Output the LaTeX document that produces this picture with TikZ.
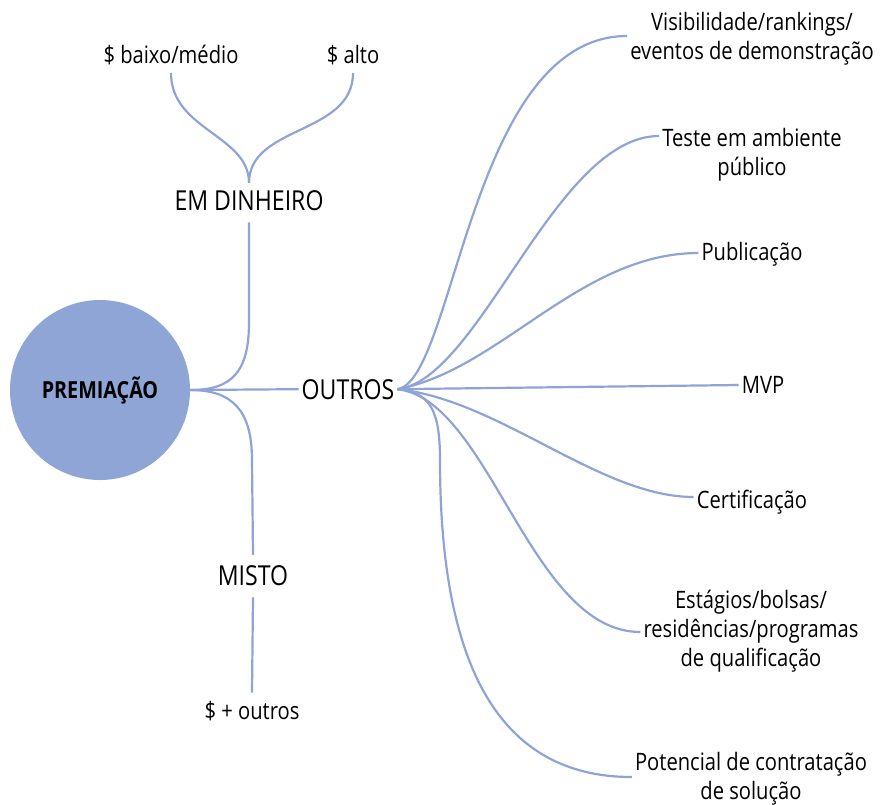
\documentclass[tikz,border=0pt]{standalone}
\usepackage{fontspec}
\setmainfont{Open Sans}[FakeStretch=0.84]
\usetikzlibrary{calc}
\definecolor{lc}{RGB}{143,163,214}
\definecolor{cf}{RGB}{142,165,214}
\begin{document}
\begin{tikzpicture}[x=1pt,y=-1pt,
  conn/.style={draw=lc,line width=2.2pt},
  sm/.style={inner sep=0pt,anchor=base,font=\fontsize{24}{28}\selectfont},
  big/.style={inner sep=0pt,anchor=base,font=\fontsize{27.5}{32}\selectfont},
  rl/.style={inner sep=0pt,anchor=base,align=center,font=\fontsize{24}{29}\selectfont}]
\useasboundingbox (0,0) rectangle (882,804);
% hub
\node[circle,fill=cf,minimum size=180pt,inner sep=0pt,font=\bfseries\fontsize{23.5}{28}\selectfont] (prem) at (100,390) {PREMIAÇÃO};
\node[big] (em) at (249,210) {EM DINHEIRO};
\node[big] (outros) at (348,399) {OUTROS};
\node[big] (misto) at (253,585) {MISTO};
\node[sm] (baixo) at (171,63) {\$ baixo/médio};
\node[sm] (alto) at (353,63) {\$ alto};
\node[sm] (mais) at (252,719) {\$ + outros};
% right labels (base = baseline of last line)
\node[rl] (vis) at (752,59) {Visibilidade/rankings/\\eventos de demonstração};
\node[rl] (teste) at (752,175) {Teste em ambiente\\público};
\node[rl] (pub) at (752,260) {Publicação};
\node[rl] (mvp) at (763,393) {MVP};
\node[rl] (cert) at (752,508) {Certificação};
\node[rl] (est) at (751,666) {Estágios/bolsas/\\residências/programas\\de qualificação};
\node[rl] (pot) at (751,799) {Potencial de contratação\\de solução};
% left connectors
\draw[conn] (prem.east) .. controls (232,390) and (249,372) .. (249,322) -- ($(em.south)+(0,12)$);
\draw[conn] (prem.east) .. controls (232,390) and (252,410) .. (252,460) -- ($(misto.north)+(0,-10)$);
\draw[conn] (prem.east) -- ($(outros.west)+(-3,0)$);
\draw[conn] ($(misto.south)+(0,12)$) -- ($(mais.north)+(0,-8)$);
\draw[conn] ($(em.north)+(0,-7)$) .. controls (249,135) and (171,130) .. ($(baixo.base)+(0,10)$);
\draw[conn] ($(em.north)+(0,-7)$) .. controls (249,125) and (353,135) .. ($(alto.base)+(0,10)$);
% right fan
\coordinate (hub) at ($(outros.east)+(3,0)$);
\draw[conn] (hub) .. controls (455,380) and (470,36) .. ($(vis.base west)+(-3,-23)$);
\draw[conn] (hub) .. controls (480,380) and (555,136) .. ($(teste.base west)+(-3,-39)$);
\draw[conn] (hub) .. controls (500,370) and (580,253) .. ($(pub.base west)+(-3,-7)$);
\draw[conn] (hub) -- ($(mvp.base west)+(-3,-8)$);
\draw[conn] (hub) .. controls (500,400) and (600,497) .. ($(cert.base west)+(-3,-11)$);
\draw[conn] (hub) .. controls (490,400) and (530,632) .. ($(est.base west)+(-3,-34)$);
\draw[conn] (hub) .. controls (430,392) and (440,410) .. (440,460) .. controls (440,650) and (490,777) .. ($(pot.base west)+(-3,-22)$);
\end{tikzpicture}
\end{document}
